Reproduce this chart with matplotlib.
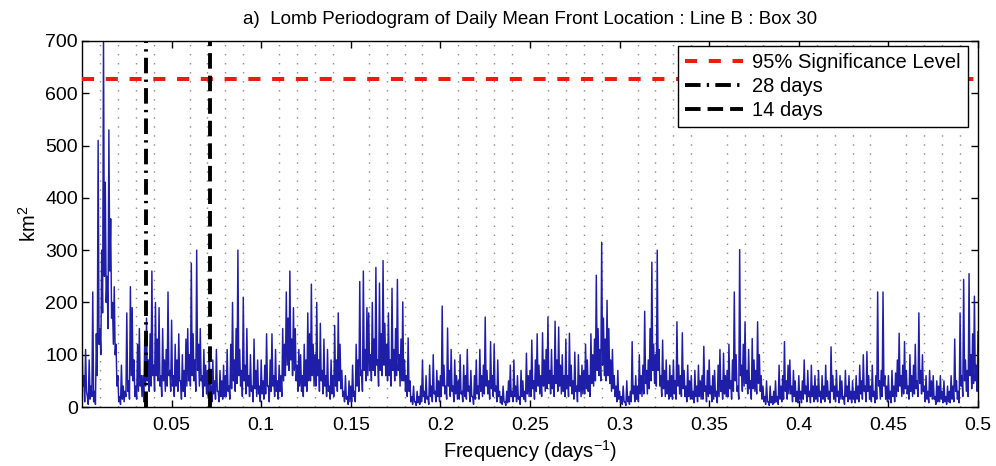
import matplotlib
matplotlib.use('Agg')
import matplotlib.pyplot as plt
import numpy as np

plt.rcParams['font.family'] = ['Liberation Sans', 'DejaVu Sans']
plt.rcParams['mathtext.fontset'] = 'custom'
plt.rcParams['mathtext.rm'] = 'Liberation Sans'
plt.rcParams['mathtext.it'] = 'Liberation Sans:italic'

# periodogram power (km^2), one value per 0.0005 day^-1 from 0 to 0.5
power = [
    130, 40, 60, 10, 110, 30, 20, 5, 90, 15, 40, 20, 220, 10, 30, 5, 140, 60, 510, 120,
    150, 100, 300, 180, 705, 250, 430, 200, 250, 150, 530, 260, 360, 170, 200, 120, 230, 100, 120, 40,
    60, 10, 20, 5, 80, 15, 40, 10, 30, 20, 180, 30, 50, 15, 230, 60, 190, 50, 90, 20,
    40, 15, 120, 30, 150, 40, 60, 20, 60, 10, 130, 40, 170, 50, 90, 30, 140, 40, 260, 60,
    80, 30, 200, 60, 130, 50, 190, 40, 60, 20, 150, 50, 90, 30, 110, 40, 220, 60, 70, 30,
    166, 40, 60, 20, 120, 40, 90, 30, 140, 50, 50, 15, 100, 30, 70, 20, 130, 40, 150, 50,
    100, 40, 275, 60, 140, 50, 90, 30, 300, 70, 120, 40, 150, 50, 60, 20, 110, 40, 80, 25,
    70, 20, 110, 30, 40, 10, 90, 25, 50, 15, 110, 30, 30, 10, 70, 20, 50, 15, 80, 20,
    60, 20, 110, 30, 40, 15, 120, 35, 200, 50, 90, 30, 150, 45, 300, 60, 110, 40, 70, 20,
    210, 50, 80, 25, 150, 40, 60, 20, 100, 30, 40, 10, 130, 35, 70, 20, 90, 25, 40, 10,
    90, 25, 50, 15, 80, 25, 140, 40, 40, 10, 90, 30, 140, 40, 60, 20, 110, 30, 50, 15,
    80, 30, 60, 20, 150, 50, 120, 60, 220, 80, 170, 70, 260, 90, 130, 60, 190, 70, 150, 50,
    80, 30, 110, 40, 100, 30, 60, 20, 120, 40, 90, 30, 180, 50, 140, 50, 235, 60, 120, 40,
    100, 40, 200, 60, 90, 30, 160, 50, 70, 25, 130, 40, 60, 20, 110, 30, 40, 15, 90, 25,
    60, 20, 156, 40, 90, 30, 180, 50, 120, 35, 70, 20, 30, 10, 60, 15, 20, 5, 50, 10,
    40, 10, 80, 20, 30, 10, 120, 40, 90, 30, 240, 60, 70, 30, 260, 70, 110, 50, 190, 60,
    180, 70, 100, 50, 200, 70, 130, 60, 267, 80, 90, 40, 237, 70, 140, 60, 280, 80, 160, 60,
    120, 50, 180, 60, 90, 40, 227, 70, 110, 50, 150, 60, 244, 70, 100, 40, 130, 50, 201, 50,
    90, 30, 60, 20, 132, 30, 50, 10, 20, 5, 40, 10, 10, 3, 30, 8, 20, 5, 40, 10,
    90, 20, 30, 8, 60, 15, 20, 5, 80, 20, 40, 10, 100, 25, 30, 10, 70, 20, 50, 10,
    60, 20, 193, 40, 80, 25, 40, 15, 151, 40, 70, 20, 110, 30, 40, 10, 90, 25, 60, 15,
    50, 15, 100, 25, 30, 10, 80, 20, 60, 15, 110, 30, 40, 10, 70, 20, 20, 5, 60, 15,
    90, 25, 40, 15, 110, 30, 60, 20, 80, 25, 172, 40, 70, 25, 50, 15, 125, 35, 60, 20,
    120, 30, 40, 10, 90, 20, 30, 8, 20, 5, 40, 10, 10, 3, 30, 8, 50, 10, 80, 20,
    30, 10, 90, 20, 40, 10, 60, 15, 20, 5, 70, 20, 50, 15, 30, 10, 103, 25, 60, 20,
    70, 20, 128, 35, 50, 15, 90, 30, 140, 40, 80, 25, 60, 20, 142, 40, 90, 30, 110, 35,
    172, 45, 70, 25, 110, 35, 60, 20, 164, 45, 90, 30, 153, 40, 80, 25, 100, 30, 60, 20,
    130, 35, 60, 20, 141, 40, 80, 25, 50, 15, 105, 30, 40, 10, 100, 30, 60, 20, 80, 25,
    70, 25, 120, 35, 90, 30, 60, 20, 140, 45, 100, 40, 130, 50, 252, 70, 150, 60, 110, 50,
    315, 80, 170, 60, 130, 50, 204, 60, 150, 45, 90, 30, 110, 35, 60, 20, 40, 10, 70, 15,
    30, 8, 20, 5, 40, 10, 10, 3, 50, 10, 20, 5, 30, 10, 125, 25, 40, 10, 60, 15,
    40, 10, 100, 25, 60, 20, 80, 25, 183, 45, 70, 25, 90, 35, 150, 50, 277, 70, 120, 45,
    100, 40, 300, 70, 110, 40, 60, 20, 128, 35, 70, 20, 90, 25, 50, 15, 80, 20, 60, 15,
    90, 25, 50, 15, 163, 40, 80, 25, 60, 20, 142, 35, 70, 20, 40, 10, 80, 20, 50, 15,
    60, 15, 30, 8, 70, 20, 40, 10, 80, 20, 50, 15, 60, 15, 116, 30, 40, 10, 70, 20,
    90, 25, 40, 10, 60, 15, 70, 20, 30, 8, 80, 20, 110, 30, 50, 15, 103, 25, 60, 20,
    70, 20, 120, 35, 50, 15, 90, 30, 220, 50, 100, 30, 40, 15, 301, 60, 80, 30, 120, 40,
    163, 45, 70, 25, 110, 35, 50, 15, 131, 35, 90, 30, 70, 25, 163, 45, 100, 30, 60, 15,
    40, 10, 20, 5, 50, 10, 10, 3, 40, 8, 20, 5, 30, 8, 50, 10, 20, 5, 80, 15,
    40, 10, 60, 15, 125, 30, 50, 15, 80, 25, 90, 25, 40, 10, 70, 20, 50, 10, 30, 8,
    60, 15, 30, 8, 50, 15, 90, 25, 40, 10, 70, 20, 30, 8, 80, 20, 40, 10, 60, 15,
    40, 10, 70, 20, 30, 8, 60, 15, 40, 10, 80, 20, 50, 15, 30, 8, 115, 30, 60, 15,
    40, 10, 70, 20, 30, 8, 60, 15, 50, 15, 20, 5, 70, 20, 40, 10, 60, 15, 30, 8,
    50, 15, 30, 8, 60, 15, 40, 10, 80, 25, 50, 15, 100, 30, 40, 10, 106, 30, 60, 15,
    40, 10, 80, 20, 30, 8, 60, 15, 220, 40, 50, 15, 70, 20, 220, 40, 60, 15, 40, 10,
    60, 15, 30, 8, 70, 20, 40, 10, 65, 20, 90, 30, 141, 40, 60, 20, 80, 25, 125, 35,
    70, 25, 40, 15, 100, 30, 60, 20, 80, 25, 120, 35, 50, 20, 180, 45, 70, 25, 100, 30,
    40, 10, 60, 15, 30, 8, 70, 20, 50, 15, 60, 15, 20, 5, 50, 10, 40, 10, 60, 15,
    30, 8, 50, 10, 20, 5, 40, 10, 30, 8, 60, 15, 40, 10, 130, 30, 50, 15, 30, 8,
    180, 40, 60, 20, 244, 50, 90, 30, 70, 20, 255, 60, 100, 35, 140, 45, 212, 50, 80, 30,
    144,
]
freq = np.linspace(0, 0.5, len(power))

sig_level = 627
period_28 = 28
period_14 = 14
xticks = [0.05, 0.1, 0.15, 0.2, 0.25, 0.3, 0.35, 0.4, 0.45, 0.5]
yticks = [0, 100, 200, 300, 400, 500, 600, 700]

fig = plt.figure(figsize=(9.96, 4.66), dpi=100)
ax = fig.add_axes([82 / 996, 59 / 466, 896 / 996, 366 / 466])

# dotted grid every 0.01
ax.set_xticks(np.arange(0.01, 0.5, 0.01), minor=True)
ax.grid(which='minor', axis='x', color='#8a8a8a', linestyle=(0, (1, 5.5)), linewidth=1.0)
ax.tick_params(which='minor', length=0)

ax.plot(freq, power, color='#1e1ea8', linewidth=1.05, zorder=2)

ax.axhline(sig_level, color='#f01a10', linestyle=(0, (3, 2.9)), linewidth=2.9,
           label='95% Significance Level', zorder=3)
ax.axvline(1 / period_28, color='black', linestyle=(0, (4, 1.6, 0.6, 1.6)), linewidth=2.8,
           label='28 days', zorder=3)
ax.axvline(1 / period_14, color='black', linestyle=(0, (4, 1.8)), linewidth=2.8,
           label='14 days', zorder=3)

ax.set_xlim(0, 0.5)
ax.set_ylim(0, 700)
ax.set_xticks(xticks)
ax.set_xticklabels(['%g' % t for t in xticks])
ax.set_yticks(yticks)
ax.tick_params(which='major', direction='in', length=5, width=1.0,
               top=True, right=True, labelsize=14)
ax.tick_params(axis='x', pad=7)
ax.tick_params(axis='y', pad=3)
for s in ax.spines.values():
    s.set_linewidth(1.0)

ax.set_title('a)  Lomb Periodogram of Daily Mean Front Location : Line B : Box 30',
             fontsize=13.5, pad=12)
ax.set_xlabel(r'Frequency (days$^{-1}$)', fontsize=14.5, labelpad=3)
ax.set_ylabel(r'km$^{2}$', fontsize=14.5, labelpad=4)

leg = ax.legend(loc='upper right', bbox_to_anchor=(0.989, 0.986), borderaxespad=0,
                fontsize=14.5, handlelength=2.9, handletextpad=0.45, labelspacing=0.25,
                fancybox=False, framealpha=1, edgecolor='black', borderpad=0.35)
leg.get_frame().set_linewidth(1.0)

fig.savefig('out.png', dpi=100)
